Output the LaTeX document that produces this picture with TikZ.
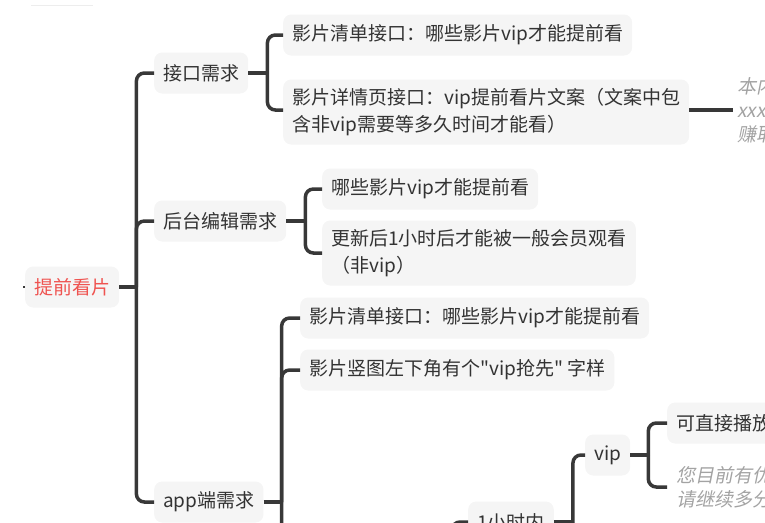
\documentclass[tikz,border=0pt]{standalone}
\usepackage{fontspec}
\setmainfont[Ligatures=TeXOff]{Noto Sans CJK SC}
\newfontfamily\noteface[FakeSlant=0.2]{Noto Sans CJK SC}
\definecolor{boxgray}{HTML}{F5F5F5}
\definecolor{linedark}{HTML}{383838}
\definecolor{textdark}{HTML}{333333}
\definecolor{rootred}{HTML}{EF5350}
\definecolor{notegray}{HTML}{A3A3A3}
\tikzset{
  topic/.style={fill=boxgray, rounded corners=8pt, inner xsep=9pt, inner ysep=6pt,
    minimum height=41pt, text=textdark, anchor=west, align=left,
    font=\fontsize{19}{27}\selectfont},
  tall/.style={minimum height=65pt},
  note/.style={inner sep=0pt, anchor=west, align=left, text=notegray,
    font=\fontsize{19}{24}\selectfont\noteface},
  link/.style={draw=linedark, line width=3.5pt, rounded corners=8pt},
}
\begin{document}
\begin{tikzpicture}[x=1pt, y=-1pt]
\useasboundingbox (0,0) rectangle (765,522);
\clip (0,0) rectangle (765,522);

% faint rule at the top left
\draw[black!7, line width=1pt] (31,5) -- (93,5);

% root
\node[topic, text=rootred] (root) at (25,287) {提前看片};
\draw[linedark, line width=1.5pt] (root.west) -- ++(-2,0);

% first level
\node[topic] (jk)  at (154,73)  {接口需求};
\node[topic] (ht)  at (154,221) {后台编辑需求};
\node[topic] (app) at (154,502) {app端需求};

% interface branch
\node[topic] (jk1) at (283,35) {影片清单接口：哪些影片vip才能提前看};
\node[topic, tall] (jk2) at (283,112) {影片详情页接口：vip提前看片文案（文案中包\\含非vip需要等多久时间才能看）};
\node[note] (note1) at (737,110) {本内\\xxx\\赚取};

% back-office branch
\node[topic] (ht1) at (322,189) {哪些影片vip才能提前看};
\node[topic, tall] (ht2) at (322,253) {更新后1小时后才能被一般会员观看\\（非vip）};

% app branch
\node[topic] (app1) at (300,318) {影片清单接口：哪些影片vip才能提前看};
\node[topic] (app2) at (300,370) {影片竖图左下角有个"vip抢先" 字样};
\node[topic] (h1)   at (468,522) {1小时内};
\node[topic] (vip)  at (585,455) {vip};
\node[topic] (v1)   at (667,423) {可直接播放};
\node[note]  (v2)   at (676,487) {您目前有优\\请继续多分};

% continuation points below the visible area
\coordinate (appmore) at (300,600);
\coordinate (hpar)    at (452,600);
\coordinate (h1more)  at (585,600);

% connectors
\draw[link] (root.east) -- ++(17,0) coordinate (rootb);
\draw[link] (rootb) |- (jk.west);
\draw[link] (rootb) |- (ht.west);
\draw[link] (rootb) |- (app.west);

\draw[link] (jk.east) -- ++(19,0) coordinate (jkb);
\draw[link] (jkb) |- (jk1.west);
\draw[link] (jkb) |- (jk2.west |- note1.west);
\draw[link] (jk2.east |- note1.west) -- ([xshift=-4pt]note1.west);

\draw[link] (ht.east) -- ++(19,0) coordinate (htb);
\draw[link] (htb) |- (ht1.west);
\draw[link] (htb) |- (ht2.west);

\draw[link] (app.east) -- ++(18,0) coordinate (appb);
\draw[link] (appb) |- (app1.west);
\draw[link] (appb) |- (app2.west);
\draw[link] (appb) |- (appmore);

\draw[link] (hpar) |- (h1.west);

\draw[link] (h1.east) -- ++(19,0) coordinate (h1b);
\draw[link] (h1b) |- (vip.west);
\draw[link] (h1b) |- (h1more);

\draw[link] (vip.east) -- ++(18,0) coordinate (vipb);
\draw[link] (vipb) |- (v1.west);
\draw[link] (vipb) |- ([xshift=-9pt]v2.west);
\end{tikzpicture}
\end{document}
